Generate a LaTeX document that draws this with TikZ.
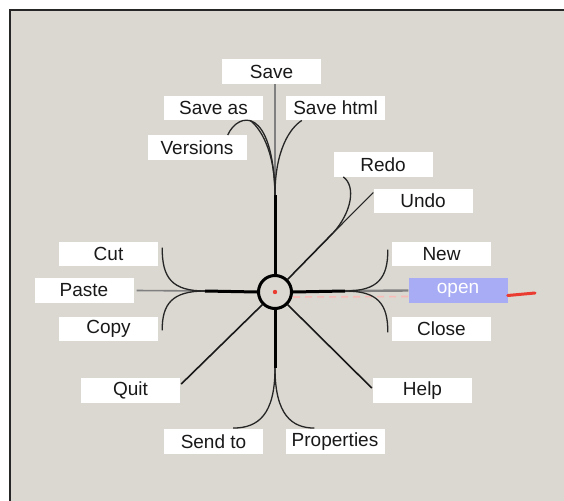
\documentclass[tikz,border=0pt]{standalone}
\usepackage{fontspec}
\setmainfont{Liberation Sans}
\definecolor{bg}{RGB}{219,216,209}
\definecolor{selblue}{RGB}{168,172,244}
\definecolor{trail}{RGB}{235,60,50}
\begin{document}
\begin{tikzpicture}[x=1pt,y=-1pt,
  item/.style={fill=white,draw=none,minimum width=99pt,minimum height=24.5pt,inner sep=0pt,
    font=\fontsize{19}{22}\selectfont,text=black!90},
  sel/.style={item,fill=selblue,text=white},
  axis/.style={line width=3pt,black},
  diag/.style={line width=1.6pt,black!90},
  twig/.style={line width=1.3pt,black!85},
  stem/.style={line width=2pt,black!50}]
\useasboundingbox (0,0) rectangle (564,500);
\fill[white] (0,0) rectangle (564,500);
\draw[fill=bg,line width=2pt,draw=black!85] (10,10) rectangle (600,540);

% items
\node[item] (save)     at (271.5,71.5) {Save};
\node[item] (saveas)   at (213.5,108) {Save as};
\node[item] (savehtml) at (335.5,108) {Save html};
\node[item] (versions) at (197,147.5) {Versions};
\node[item] (redo)     at (383,164.5) {Redo};
\node[item] (undo)     at (423,201) {Undo};
\node[item] (new)      at (441.5,254) {New};
\node[sel]  (open)     at (458,290.5) {open};
\node[item] (close)    at (441.5,329) {Close};
\node[item] (help)     at (422.5,390.5) {Help};
\node[item] (props)    at (335,441.5) {Properties};
\node[item] (sendto)   at (213.5,441.5) {Send to};
\node[item] (quit)     at (130.5,390.5) {Quit};
\node[item] (copy)     at (108.5,329) {Copy};
\node[item] (paste)    at (84,290.5) {Paste};
\node[item] (cut)      at (108.5,254) {Cut};

% hub
\node[circle,draw=black,line width=3pt,minimum size=33pt,inner sep=0pt] (hub) at (275,292) {};
\fill[trail] (hub.center) circle (2.2pt);

% junctions
\coordinate (jup) at (275,195);
\coordinate (jright) at (345,291);
\coordinate (jleft) at (205,291);
\coordinate (jdown) at (275,368);
\coordinate (jur) at (333,233);
\coordinate (trailend) at (535,293);

% faint pointer trail
\draw[trail!35,line width=1.6pt,dash pattern=on 7pt off 5pt] ([yshift=-5pt]hub.east) -- ([yshift=-6pt]open.west);
\draw[trail,line width=3pt,line cap=round] ([yshift=-5pt]open.east) -- (trailend);

% up
\draw[stem] (jup) -- (jup |- save.south);
\draw[axis] (hub.north) -- (jup);
\draw[twig] (jup) .. controls (275,150) and (260,128) .. ([xshift=-13pt]saveas.south east);
\draw[twig] (jup) .. controls (273,105) and (238,112) .. ([xshift=-19pt]versions.north east);
\draw[twig] (jup) .. controls (275,150) and (290,128) .. ([xshift=16pt]savehtml.south west);

% up-right
\draw[diag] (hub.north east) -- (jur);
\draw[line width=1.1pt,black!85] (jur) -- ([yshift=-4pt]undo.north west);
\draw[twig] (jur) .. controls (352,212) and (356,186) .. ([xshift=10pt]redo.south west);

% right
\draw[stem,line width=2.4pt] (jright) -- (open.west);
\draw[axis] (hub.east) -- (jright);
\draw[twig] (jright) .. controls (378,291) and (388,278) .. ([xshift=-4pt,yshift=-8pt]new.north west);
\draw[twig] (jright) .. controls (378,291) and (388,304) .. ([xshift=-4pt,yshift=9pt]close.south west);

% left
\draw[stem,line width=1.6pt] (jleft) -- ([xshift=3pt]paste.east);
\draw[axis] (hub.west) -- (jleft);
\draw[twig] (jleft) .. controls (172,291) and (162,278) .. ([xshift=4pt,yshift=-6pt]cut.north east);
\draw[twig] (jleft) .. controls (172,291) and (162,304) .. ([xshift=4pt,yshift=11pt]copy.south east);

% down
\draw[axis] (hub.south) -- (jdown);
\draw[twig] (jdown) .. controls (275,415) and (258,428) .. ([xshift=-30pt,yshift=1pt]sendto.north east);
\draw[twig] (jdown) .. controls (275,415) and (292,428) .. ([xshift=29pt,yshift=1pt]props.north west);

% diagonals down
\draw[diag] (hub.south west) -- ([xshift=1pt,yshift=-6pt]quit.north east);
\draw[diag] (hub.south east) -- ([xshift=-1pt,yshift=-10pt]help.north west);
\end{tikzpicture}
\end{document}
